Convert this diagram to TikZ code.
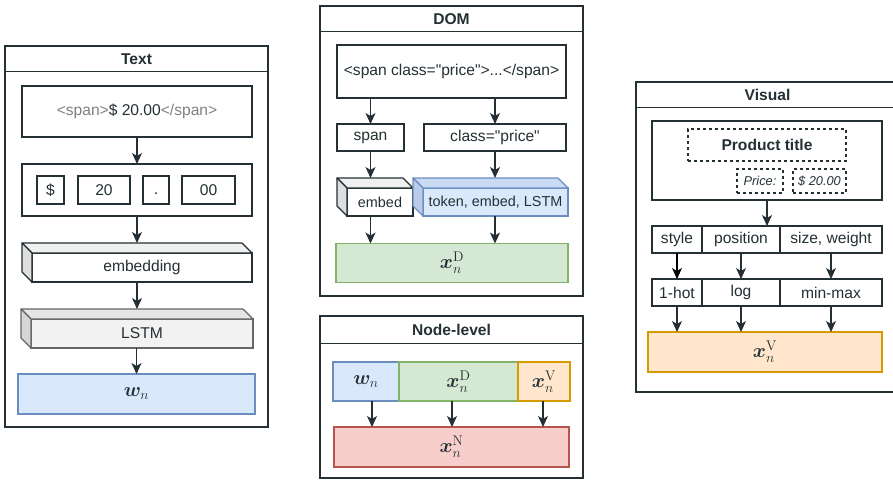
\RequirePackage{fix-cm}
\documentclass[tikz,border=0pt]{standalone}
\usepackage{amsmath}
\usepackage{bm}
\usepackage[no-math]{fontspec}
\setmainfont{Liberation Sans}[Ligatures=TeXOff]
\DeclareMathSizes{20}{20}{14}{10}
\usetikzlibrary{arrows.meta, positioning, calc}
\definecolor{inkcolor}{RGB}{36,48,52}
\definecolor{tagcolor}{RGB}{128,128,128}
\definecolor{textfill}{RGB}{218,232,252}
\definecolor{textline}{RGB}{108,142,191}
\definecolor{domfill}{RGB}{213,232,212}
\definecolor{domline}{RGB}{130,179,102}
\definecolor{visfill}{RGB}{255,230,204}
\definecolor{visline}{RGB}{215,155,0}
\definecolor{nodefill}{RGB}{248,206,204}
\definecolor{nodeline}{RGB}{184,84,80}
\definecolor{lstmfill}{RGB}{242,242,242}
\definecolor{lstmline}{RGB}{102,102,102}

% top and left faces of a 3D block, plus a coordinate on its top face
\newcommand{\cubesides}[4]{%
  \filldraw[fill=#2, draw=#4, line width=1.1pt, line join=round] (#1.north west) -- ++(-10,-10) -- ($(#1.north east)+(-10,-10)$) -- (#1.north east) -- cycle;
  \filldraw[fill=#3, draw=#4, line width=1.1pt, line join=round] (#1.north west) -- ++(-10,-10) -- ($(#1.south west)+(-10,-10)$) -- (#1.south west) -- cycle;
  \coordinate (#1-top) at ($(#1.north)+(-5,-10)$);
}

\begin{document}
\begin{tikzpicture}[
    x=1pt, y=-1pt,
    font=\fontsize{15.6}{18}\selectfont,
    text=inkcolor,
    panel/.style={draw=inkcolor, line width=1.1pt, inner sep=0pt, minimum width=263pt},
    title/.style={font=\fontsize{15.6}{18}\selectfont\bfseries},
    box/.style={draw=inkcolor, line width=1.1pt, fill=white, inner sep=0pt, outer sep=0pt, align=center},
    vecbox/.style={box, font=\fontsize{20}{24}\selectfont},
    dashbox/.style={draw=inkcolor, line width=1.1pt, dashed, inner sep=0pt, outer sep=0pt},
    arrow/.style={-{Stealth[length=11pt, width=10pt, inset=3pt]}, line width=1.1pt, draw=inkcolor}
]
    \useasboundingbox (0,0) rectangle (893,480);

    % Text branch
    \node[panel, minimum height=381pt] (textpanel) at (136.5,236.5) {};
    \node[title] (texttitle) at (136.5,59) {Text};
    \draw[line width=1.1pt, inkcolor] ([yshift=-26pt]textpanel.north west) -- ([yshift=-26pt]textpanel.north east);

    \node[box, minimum width=230pt, minimum height=51pt] (rawtext) at (137,111.5) {{\color{tagcolor}<span>}\$ 20.00{\color{tagcolor}</span>}};
    \node[box, minimum width=230pt, minimum height=52pt] (tokrow) at (137,190) {};
    \node[box, minimum width=27pt, minimum height=28pt] (tokdollar) at (50.5,190) {\$};
    \node[box, minimum width=52pt, minimum height=28pt] (tokint) at (104,190) {20};
    \node[box, minimum width=26pt, minimum height=28pt, text height=11pt, text depth=3pt] (tokdot) at (156,190) {.};
    \node[box, minimum width=53pt, minimum height=28pt] (tokfrac) at (208.5,190) {00};

    \node[box, minimum width=220pt, minimum height=29pt] (emb) at (142,267.5) {embedding};
    \cubesides{emb}{black!6}{black!13}{inkcolor}
    \node[box, fill=lstmfill, draw=lstmline, minimum width=222pt, minimum height=29pt] (lstm) at (142,333.5) {LSTM};
    \cubesides{lstm}{black!10}{black!16}{lstmline}
    \node[vecbox, fill=textfill, draw=textline, minimum width=237pt, minimum height=40pt] (wn) at (136.5,394) {$\bm{w}_n$};

    \draw[arrow] (rawtext) -- (tokrow);
    \draw[arrow] (tokrow) -- (emb-top);
    \draw[arrow] (emb.south -| emb-top) -- (lstm-top);
    \draw[arrow] (lstm.south -| wn) -- (wn);

    % DOM branch
    \node[panel, minimum height=290pt] (dompanel) at (451.5,151) {};
    \node[title] (domtitle) at (451.5,19) {DOM};
    \draw[line width=1.1pt, inkcolor] ([yshift=-26pt]dompanel.north west) -- ([yshift=-26pt]dompanel.north east);

    \node[box, minimum width=229pt, minimum height=53pt] (domsrc) at (451.5,71.5) {<span class="price">...</span>};
    \node[box, minimum width=67pt, minimum height=27pt] (tagname) at (370.5,137.5) {span};
    \node[box, minimum width=142pt, minimum height=27pt] (classname) at (495,137.5) {class="price"};
    \node[box, minimum width=66pt, minimum height=28pt, font=\fontsize{14.4}{17}\selectfont] (tagemb) at (380,202) {embed};
    \cubesides{tagemb}{black!6}{black!13}{inkcolor}
    \node[box, fill=textfill, draw=textline, minimum width=145pt, minimum height=28pt, font=\fontsize{14.4}{17}\selectfont] (classemb) at (495.5,202) {token, embed, LSTM};
    \cubesides{classemb}{textfill!85!textline}{textfill!70!textline}{textline}
    \node[vecbox, fill=domfill, draw=domline, minimum width=232pt, minimum height=39pt] (xd) at (452,263) {$\bm{x}_n^{\mathrm{D}}$};

    \draw[arrow] (domsrc.south -| tagname) -- (tagname);
    \draw[arrow] (domsrc.south -| classname) -- (classname);
    \draw[arrow] (tagname) -- (tagname |- tagemb-top);
    \draw[arrow] (classname) -- (classname |- classemb-top);
    \draw[arrow] (tagname |- tagemb.south) -- (tagname |- xd.north);
    \draw[arrow] (classname |- classemb.south) -- (classname |- xd.north);

    % Node-level concatenation
    \node[panel, minimum height=162pt] (nodepanel) at (451.5,397) {};
    \node[title] (nodetitle) at (451.5,330) {Node-level};
    \draw[line width=1.1pt, inkcolor] ([yshift=-28pt]nodepanel.north west) -- ([yshift=-28pt]nodepanel.north east);

    \node[vecbox, fill=textfill, draw=textline, minimum width=66pt, minimum height=39pt] (wpart) at (366,381.5) {$\bm{w}_n$};
    \node[vecbox, fill=domfill, draw=domline, minimum width=119pt, minimum height=39pt] (dpart) at (458.5,381.5) {$\bm{x}_n^{\mathrm{D}}$};
    \node[vecbox, fill=visfill, draw=visline, minimum width=52pt, minimum height=39pt] (vpart) at (544,381.5) {$\bm{x}_n^{\mathrm{V}}$};
    \node[vecbox, fill=nodefill, draw=nodeline, minimum width=235pt, minimum height=40pt] (xn) at (451.5,447) {$\bm{x}_n^{\mathrm{N}}$};

    \draw[arrow] ([xshift=6pt]wpart.south) -- ([xshift=6pt]wpart.south |- xn.north);
    \draw[arrow] ([xshift=-6.5pt]dpart.south) -- ([xshift=-6.5pt]dpart.south |- xn.north);
    \draw[arrow] ([xshift=-1pt]vpart.south) -- ([xshift=-1pt]vpart.south |- xn.north);

    % Visual branch
    \node[panel, minimum height=310pt] (vispanel) at (767.5,237) {};
    \node[title] (vistitle) at (767.5,95) {Visual};
    \draw[line width=1.1pt, inkcolor] ([yshift=-26pt]vispanel.north west) -- ([yshift=-26pt]vispanel.north east);

    \node[box, minimum width=230pt, minimum height=79pt] (rendered) at (767,160.5) {};
    \node[dashbox, minimum width=158pt, minimum height=32pt, font=\fontsize{15.6}{18}\selectfont\bfseries] (ptitle) at (767,145) {Product title};
    \node[dashbox, minimum width=46pt, minimum height=24pt, font=\fontsize{12.8}{15}\selectfont\itshape] (plabel) at (760,181) {Price:};
    \node[dashbox, minimum width=53pt, minimum height=24pt, font=\fontsize{12.8}{15}\selectfont\itshape] (pvalue) at (819.5,181) {\$ 20.00};

    \node[box, minimum width=50pt, minimum height=27pt] (fstyle) at (677,239.5) {style};
    \node[box, minimum width=78pt, minimum height=27pt] (fpos) at (741,239.5) {position};
    \node[box, minimum width=102pt, minimum height=27pt] (fsize) at (831,239.5) {size, weight};
    \node[box, minimum width=50pt, minimum height=27pt] (onehot) at (677,292.5) {1-hot};
    \node[box, minimum width=78pt, minimum height=27pt] (logscale) at (741,292.5) {log};
    \node[box, minimum width=102pt, minimum height=27pt] (minmax) at (831,292.5) {min-max};
    \node[vecbox, fill=visfill, draw=visline, minimum width=234pt, minimum height=40pt] (xv) at (765,352) {$\bm{x}_n^{\mathrm{V}}$};

    \draw[arrow] (rendered) -- (rendered |- fpos.north);
    \draw[arrow, draw=black] (fstyle) -- (onehot);
    \draw[arrow] (fpos) -- (logscale);
    \draw[arrow] (fsize) -- (minmax);
    \draw[arrow] (onehot) -- (onehot |- xv.north);
    \draw[arrow] (logscale) -- (logscale |- xv.north);
    \draw[arrow] (minmax) -- (minmax |- xv.north);
\end{tikzpicture}
\end{document}
